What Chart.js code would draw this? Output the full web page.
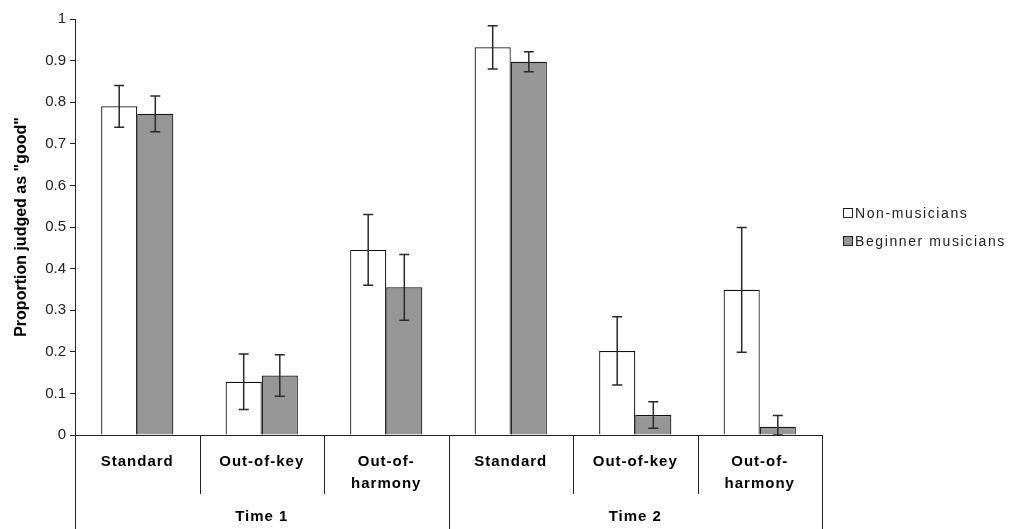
<!DOCTYPE html>
<html>
<head>
<meta charset="utf-8">
<script src="https://cdn.jsdelivr.net/npm/chart.js@4.4.0/dist/chart.umd.min.js"></script>
<style>
  html, body { margin: 0; padding: 0; background: #fff; }
  #wrap { width: 1011px; height: 529px; position: relative; }
</style>
</head>
<body>
<div id="wrap"><canvas id="myChart" width="1011" height="529"></canvas></div>
<script>
// conditions inside each time block, then the two time blocks
const conditions = [['Standard'], ['Out-of-key'], ['Out-of-', 'harmony']]
const times = ['Time 1', 'Time 2']
const seriesNames = ['Non-musicians', 'Beginner musicians']

// proportions judged "good" (Time 1 then Time 2)
const nonMusicians = [0.79, 0.128, 0.445, 0.932, 0.202, 0.349]
const beginners = [0.772, 0.143, 0.355, 0.897, 0.048, 0.02]

// error bar half-widths
const nonMusiciansErr = [0.05, 0.067, 0.085, 0.052, 0.082, 0.15]
const beginnersErr = [0.043, 0.05, 0.079, 0.024, 0.032, 0.027]

const yTicks = [0, 0.1, 0.2, 0.3, 0.4, 0.5, 0.6, 0.7, 0.8, 0.9, 1]

const labels = []
times.forEach(t => conditions.forEach(c => labels.push(c)))

const fontFamily = '"Liberation Sans", Arial, sans-serif'

// error bars drawn from the bar elements and the y scale
const errorBars = {
  id: 'errorBars',
  afterDatasetsDraw(chart) {
    const ctx = chart.ctx
    const y = chart.scales.y
    const errs = [nonMusiciansErr, beginnersErr]
    ctx.save()
    ctx.strokeStyle = '#2a2a2a'
    ctx.lineWidth = 1.5
    chart.data.datasets.forEach((ds, di) => {
      const meta = chart.getDatasetMeta(di)
      meta.data.forEach((bar, i) => {
        const v = ds.data[i]
        const e = errs[di][i]
        const top = y.getPixelForValue(v + e)
        const bot = y.getPixelForValue(Math.max(v - e, 0))
        const x = bar.x
        ctx.beginPath()
        ctx.moveTo(x, top); ctx.lineTo(x, bot)
        ctx.moveTo(x - 5, top); ctx.lineTo(x + 5, top)
        ctx.moveTo(x - 5, bot); ctx.lineTo(x + 5, bot)
        ctx.stroke()
      })
    })
    ctx.restore()
  }
}

// two level category axis plus legend
const categoryAxis = {
  id: 'categoryAxis',
  afterDraw(chart) {
    const ctx = chart.ctx
    const x = chart.scales.x
    const area = chart.chartArea
    const y0 = chart.scales.y.getPixelForValue(0)
    const n = labels.length
    const step = (x.getPixelForValue(1) - x.getPixelForValue(0))
    const edge = i => x.getPixelForValue(i) - step / 2

    ctx.save()
    ctx.strokeStyle = '#222'
    ctx.lineWidth = 1
    ctx.beginPath()
    ctx.moveTo(area.left - 5, y0 + 0.5)
    ctx.lineTo(area.right, y0 + 0.5)
    for (let i = 0; i <= n; i++) {
      const px = Math.round(edge(i)) + 0.5
      const long = i % conditions.length === 0
      ctx.moveTo(px, y0)
      ctx.lineTo(px, long ? 529 : 494)
    }
    ctx.stroke()

    ctx.fillStyle = '#000'
    ctx.font = 'bold 15px ' + fontFamily
    ctx.letterSpacing = '1px'
    ctx.textAlign = 'center'
    ctx.textBaseline = 'middle'
    labels.forEach((lab, i) => {
      const cx = x.getPixelForValue(i)
      lab.forEach((line, li) => ctx.fillText(line, cx, 462 + li * 22))
    })
    times.forEach((t, ti) => {
      const cx = (edge(ti * conditions.length) + edge((ti + 1) * conditions.length)) / 2
      ctx.fillText(t, cx, 517)
    })

    // legend
    const fills = ['#ffffff', '#969696']
    ctx.font = '14px ' + fontFamily
    ctx.letterSpacing = '1.6px'
    ctx.textAlign = 'left'
    seriesNames.forEach((name, i) => {
      const ly = 213 + i * 28
      ctx.fillStyle = fills[i]
      ctx.fillRect(843, ly - 5, 10, 10)
      ctx.strokeStyle = '#222'
      ctx.strokeRect(843.5, ly - 4.5, 9, 9)
      ctx.fillStyle = '#222'
      ctx.fillText(name, 855, ly + 1)
    })
    ctx.restore()
  }
}

const ctx = document.querySelector('#myChart')

const myChart = new Chart(ctx, {
  type: 'bar',
  data: {
    labels: labels.map(l => l.join(' ')),
    datasets: [
      {
        label: seriesNames[0],
        data: nonMusicians,
        backgroundColor: '#ffffff',
        borderColor: '#111',
        borderWidth: 1.2
      },
      {
        label: seriesNames[1],
        data: beginners,
        backgroundColor: '#969696',
        borderColor: '#111',
        borderWidth: 1.2
      }
    ]
  },
  options: {
    responsive: false,
    animation: false,
    devicePixelRatio: 1,
    layout: { padding: { top: 19, right: 189, bottom: 94, left: 0 } },
    plugins: {
      legend: { display: false },
      tooltip: { enabled: false }
    },
    datasets: {
      bar: { categoryPercentage: 0.58, barPercentage: 1 }
    },
    scales: {
      x: {
        display: false,
        grid: { display: false }
      },
      y: {
        min: 0,
        max: 1,
        afterFit(scale) { scale.width = 75 },
        afterBuildTicks(scale) { scale.ticks = yTicks.map(v => ({ value: v })) },
        ticks: {
          color: '#222',
          padding: 4,
          font: { family: fontFamily, size: 15 },
          callback: v => String(v)
        },
        grid: {
          drawOnChartArea: false,
          drawTicks: true,
          tickLength: 5,
          color: '#222'
        },
        border: { color: '#222', width: 1 },
        title: {
          display: true,
          text: 'Proportion judged as "good"',
          color: '#000',
          font: { family: fontFamily, size: 16, weight: 'bold' },
          padding: { top: 12, bottom: 0 }
        }
      }
    }
  },
  plugins: [errorBars, categoryAxis]
})
</script>
</body>
</html>
